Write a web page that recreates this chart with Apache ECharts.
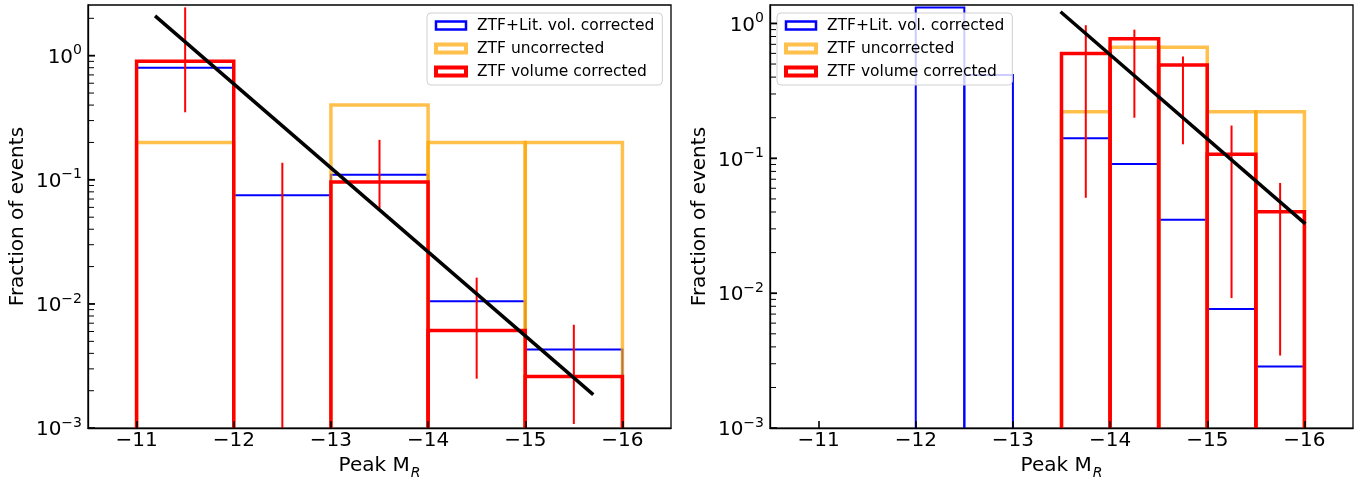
<!DOCTYPE html>
<html><head><meta charset="utf-8">
<script src="https://cdn.jsdelivr.net/npm/echarts@6/dist/echarts.min.js"></script>
<style>html,body{margin:0;padding:0;background:#fff}#c{width:1369px;height:485px}</style>
</head><body><div id="c"></div>
<script>
const FONT = 'DejaVu Sans';
const names = ['ZTF+Lit. vol. corrected', 'ZTF uncorrected', 'ZTF volume corrected'];
const xTicks = [-11, -12, -13, -14, -15, -16];
const yTicks = [0.001, 0.01, 0.1, 1];
const yTickExps = ['\u22123', '\u22122', '\u22121', '0'];
const minorMantissas = [2, 3, 4, 5, 6, 7, 8, 9];

// Left panel (bins of 1 mag)
const leftEdges = [-11, -12, -13, -14, -15, -16];
const leftBlue = [0.80, 0.075, 0.110, 0.0105, 0.0043];
const leftOrange = [0.20, 0, 0.40, 0.20, 0.20];
const leftRed = [0.90, 0, 0.096, 0.0061, 0.0026];
const leftErrX = [-11.5, -12.5, -13.5, -14.5, -15.5];
const leftErrLo = [0.35, 0, 0.059, 0.0025, 0.00108];
const leftErrHi = [2.45, 0.137, 0.21, 0.0163, 0.0068];
const leftFitX = [-11.19, -15.70];
const leftFitY = [2.09, 0.00186];
const leftYMax = 2.56;

// Right panel (bins of 0.5 mag)
const rightEdges = [-12, -12.5, -13, -13.5, -14, -14.5, -15, -15.5, -16];
const rightBlue = [1.31, 0.414, 0, 0.141, 0.0907, 0.0351, 0.00764, 0.00286];
const rightOrange = [0, 0, 0, 0.221, 0.666, 0.666, 0.221, 0.221];
const rightRed = [0, 0, 0, 0.598, 0.771, 0.491, 0.107, 0.0402];
const rightErrX = [-13.75, -14.25, -14.75, -15.25, -15.75];
const rightErrLo = [0.051, 0.20, 0.127, 0.0092, 0.00345];
const rightErrHi = [0.97, 0.90, 0.569, 0.175, 0.0657];
const rightFitX = [-13.49, -16.01];
const rightFitY = [1.22, 0.0327];
const rightYMax = 1.37;

const X_LEFT = -10.5, X_RIGHT = -16.5;
const Y_MIN = 0.001;
const COLORS = ['#0000ff', 'rgba(255,165,0,0.7)', '#ff0000'];
const WIDTHS = [2, 3.5, 3.5];

function barData(edges, vals) {
  const out = [];
  for (let i = 0; i < vals.length; i++) if (vals[i] > 0) out.push([edges[i], edges[i + 1], vals[i]]);
  return out;
}
function barRender(color, lw) {
  return function (params, api) {
    const x0 = api.value(0), x1 = api.value(1), h = api.value(2);
    const a = api.coord([x0, Y_MIN]), b = api.coord([x0, h]), c = api.coord([x1, h]), d = api.coord([x1, Y_MIN]);
    return { type: 'polyline', shape: { points: [a, b, c, d] },
      style: { fill: 'none', stroke: color, lineWidth: lw, lineJoin: 'miter' } };
  };
}
function errRender(params, api) {
  const x = api.value(0), lo = Math.max(api.value(1), Y_MIN), hi = api.value(2);
  const a = api.coord([x, lo]), b = api.coord([x, hi]);
  return { type: 'line', shape: { x1: a[0], y1: a[1], x2: b[0], y2: b[1] },
    style: { stroke: '#ff0000', lineWidth: 2 } };
}

const grids = [
  { left: 88, top: 5, width: 583, height: 426 },
  { left: 770, top: 5, width: 583, height: 426 }
].map(g => Object.assign(g, { show: true, borderColor: '#000', borderWidth: 1.3, backgroundColor: 'transparent' }));

function xAxis(gi) {
  return {
    gridIndex: gi, type: 'value', min: X_RIGHT, max: X_LEFT, inverse: true, z: 5,
    axisLine: { show: true, lineStyle: { color: '#000', width: 1.3 } },
    axisTick: { show: true, inside: true, length: 7, customValues: xTicks, lineStyle: { color: '#000', width: 1.6 } },
    axisLabel: { customValues: xTicks, formatter: v => '\u2212' + Math.abs(v), fontFamily: FONT, fontSize: 20, color: '#000', margin: 3 },
    splitLine: { show: false },
    name: '{a|Peak M}{s|R}', nameLocation: 'middle', nameGap: 26,
    nameTextStyle: { rich: {
      a: { fontFamily: FONT, fontSize: 20, color: '#000', lineHeight: 22, verticalAlign: 'top' },
      s: { fontFamily: FONT, fontSize: 14, fontStyle: 'italic', color: '#000', lineHeight: 14, verticalAlign: 'top', padding: [10, 0, 0, 1] }
    } }
  };
}
function yAxis(gi, yMax) {
  return {
    gridIndex: gi, type: 'log', logBase: 10, min: Y_MIN, max: yMax, z: 5,
    axisLine: { show: true, lineStyle: { color: '#000', width: 1.3 } },
    axisTick: { show: false },
    axisLabel: { customValues: yTicks, margin: 6,
      formatter: v => { const i = yTicks.findIndex(t => Math.abs(t - v) / t < 1e-6); return '{b|10}{s|' + yTickExps[i] + '}'; },
      rich: {
        b: { fontFamily: FONT, fontSize: 20, color: '#000', lineHeight: 24, verticalAlign: 'bottom' },
        s: { fontFamily: FONT, fontSize: 14, color: '#000', lineHeight: 14, verticalAlign: 'top' }
      } },
    splitLine: { show: false },
    name: 'Fraction of events', nameLocation: 'middle', nameGap: 60,
    nameTextStyle: { fontFamily: FONT, fontSize: 20, color: '#000' }
  };
}

function panelSeries(gi, edges, blue, orange, red, ex, elo, ehi, fx, fy) {
  const s = [];
  [blue, orange, red].forEach((vals, k) => {
    s.push({ type: 'custom', name: names[k], xAxisIndex: gi, yAxisIndex: gi, clip: true, z: 2,
      encode: { x: [0, 1], y: 2 }, data: barData(edges, vals), renderItem: barRender(COLORS[k], WIDTHS[k]),
      itemStyle: { color: COLORS[k] } });
  });
  s.push({ type: 'custom', name: 'err', xAxisIndex: gi, yAxisIndex: gi, clip: true, z: 2,
    encode: { x: 0, y: [1, 2] }, data: ex.map((x, i) => [x, elo[i], ehi[i]]), renderItem: errRender });
  s.push({ type: 'line', name: 'fit', xAxisIndex: gi, yAxisIndex: gi, z: 3, symbol: 'none',
    data: fx.map((x, i) => [x, fy[i]]), lineStyle: { color: '#000', width: 3.5 }, itemStyle: { color: '#000' } });
  return s;
}

function legend(left) {
  return {
    left: left, top: 13, orient: 'vertical', selectedMode: false,
    itemWidth: 30, itemHeight: 8, itemGap: 6,
    padding: [4, 8, 5, 7],
    backgroundColor: 'rgba(255,255,255,0.8)', borderColor: '#d0d0d0', borderWidth: 1, borderRadius: 4,
    textStyle: { fontFamily: FONT, fontSize: 15.5, color: '#000', lineHeight: 17, padding: [0, 0, 0, 6] },
    data: names.map((n, k) => ({ name: n, icon: 'rect',
      itemStyle: { color: '#fff', borderColor: COLORS[k], borderWidth: k === 0 ? 2.5 : 4 } }))
  };
}

const chart = echarts.init(document.getElementById('c'), null, { renderer: 'canvas' });
chart.setOption({
  animation: false,
  backgroundColor: '#fff',
  grid: grids,
  legend: [legend(427), legend(777)],
  xAxis: [xAxis(0), xAxis(1)],
  yAxis: [yAxis(0, leftYMax), yAxis(1, rightYMax)],
  series: [
    ...panelSeries(0, leftEdges, leftBlue, leftOrange, leftRed, leftErrX, leftErrLo, leftErrHi, leftFitX, leftFitY),
    ...panelSeries(1, rightEdges, rightBlue, rightOrange, rightRed, rightErrX, rightErrLo, rightErrHi, rightFitX, rightFitY)
  ]
});

// Log-scale y ticks (major at decades, minor at 2..9), placed through the chart's own axis scales.
const tickGraphics = [];
[[0, leftYMax], [1, rightYMax]].forEach(([gi, yMax]) => {
  yTicks.forEach(d => {
    const vals = [[d, true]];
    minorMantissas.forEach(m => { if (d * m <= yMax) vals.push([d * m, false]); });
    vals.forEach(([v, major]) => {
      const p = chart.convertToPixel({ gridIndex: gi }, [X_LEFT, v]);
      const len = major ? 7 : 6;
      tickGraphics.push({ type: 'line', z: 100, silent: true,
        shape: { x1: p[0], y1: p[1], x2: p[0] + len, y2: p[1] },
        style: { stroke: '#000', lineWidth: major ? 1.8 : 1 } });
    });
  });
});
chart.setOption({ graphic: tickGraphics });
</script></body></html>
